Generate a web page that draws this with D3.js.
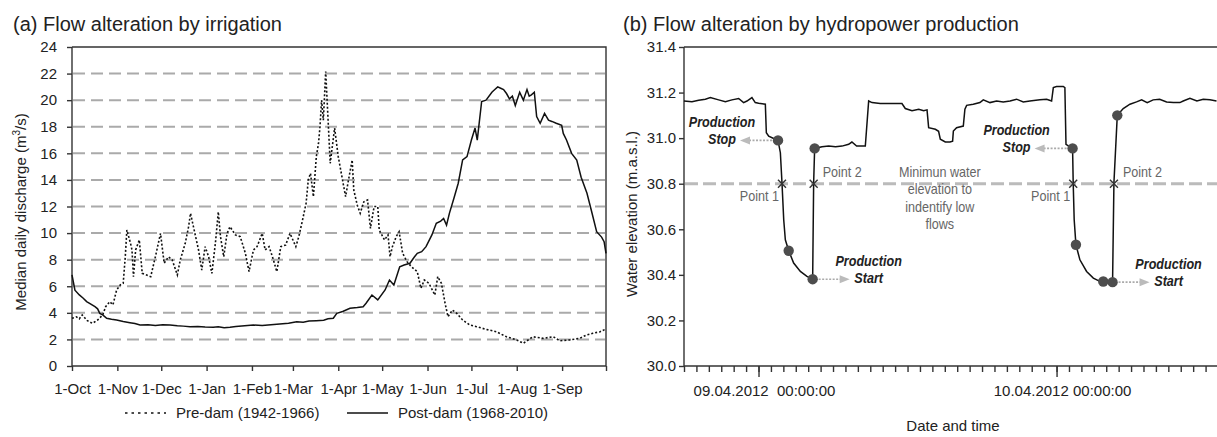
<!DOCTYPE html>
<html>
<head>
<meta charset="utf-8">
<script src="https://cdn.jsdelivr.net/npm/d3@7"></script>
<style>
  body { margin: 0; background: #fff; }
  svg { display: block; font-family: "Liberation Sans", Arial, sans-serif; }
  .axis text { font-size: 15px; fill: #222; }
  .axis path, .axis line { stroke: #333; stroke-width: 1.4; }
</style>
</head>
<body>
<svg id="fig" width="1217" height="437"></svg>
<script>
// ---------- (a) median daily discharge, day of water year (0 = 1-Oct) ----------
const monthTicks = ["1-Oct","1-Nov","1-Dec","1-Jan","1-Feb","1-Mar","1-Apr","1-May","1-Jun","1-Jul","1-Aug","1-Sep"];
const dischargeTicks = [0,2,4,6,8,10,12,14,16,18,20,22,24];
const gridValues = [2,4,6,8,10,12,14,16,18,20,22];

const preDamDays = [0,3,5,7,10.5,14,17.5,21,23,25.8,28,30.5,33,35,36.4,37.5,40,41,42,43.5,46,48,51,53.8,57,60.5,63,66,68.5,72,74,77.4,79.7,81,84,86.5,88.7,91,93.4,95.6,98,100,101.5,103.7,106,108,111.7,115,118.5,121,124,126.5,130,132,134.7,137,140,142.7,146,149,153,155,157.6,160,161.5,163,165,167,168.5,169.5,170.6,171.8,173.4,174.7,176.5,179.5,182,184.5,187,189,191.5,192.6,195,197,199.5,202,204,206.5,209,210,213.6,216,217.4,219,221.6,223.6,226,229,232,236,238.5,240.8,244,248,250,252.5,255,257,260,263,267,272,276.5,283,290,297,304,308.5,315,322,329,333.4,340,347,351.6,356,361,364.5];
const preDamQ = [3.59,3.7,3.55,3.84,3.41,3.21,3.46,3.84,4.46,4.84,4.6,5.72,6.1,6.22,8.2,10.23,9.23,8.73,6.72,8.73,9.48,6.97,6.85,6.72,8.22,9.98,7.73,8.22,7.98,6.85,7.98,9.23,10.48,11.49,9.98,8.73,7.22,8.98,8.22,6.97,9.23,11.6,9.73,8.22,9.98,10.48,9.86,9.73,8.48,7.1,8.73,8.98,9.98,8.73,8.98,8.22,7.1,8.98,9.1,9.98,8.98,9.73,10.99,12.24,14.0,14.5,12.74,15.75,16.76,18.0,20.0,18.5,22.15,19.26,15.25,17.9,15.75,14.24,12.74,14.0,15.5,13.24,12.1,11.49,12.36,12.49,10.36,12.0,12.0,10.23,9.48,9.86,8.22,8.98,9.73,10.1,8.48,7.85,7.47,7.1,5.85,6.47,6.22,5.34,6.72,6.22,4.72,3.71,4.21,3.96,3.46,3.08,2.96,2.76,2.58,2.2,1.96,1.71,2.2,2.08,2.2,1.9,1.96,2.08,2.33,2.46,2.58,2.76];

const postDamDays = [0,2,5,7.7,10,12.3,15.7,17.5,19,21,23.7,27,30.5,35,39.6,43,46.5,52,57,62,67,72,76,80.7,86,91,96.6,100,104,108,112,118,124,130,136,142,148,153.6,158,162,167,172,175,178.6,181,185,190,195,199,201,205,209,214,217,220,224,227,231,234,236,239,242,246,249,252,254,256,258,261,264,267,270,273,275.5,277,280,283,287,289,291,293,295,297,299,301,303,306,308.5,311,312.5,314,316,317.6,320,323,325.7,328,331,334.7,335.8,338,341.5,345,348,352,355,358.6,362,363.7,365];
const postDamQ = [6.85,5.7,5.35,5.1,4.85,4.7,4.46,4.3,3.96,3.85,3.59,3.52,3.46,3.35,3.26,3.2,3.08,3.1,3.05,3.1,3.08,3.02,3.0,2.96,2.98,2.93,2.91,2.95,2.88,2.91,2.97,3.02,3.08,3.05,3.1,3.16,3.22,3.33,3.3,3.38,3.41,3.45,3.55,3.59,3.96,4.1,4.34,4.4,4.46,4.72,5.34,4.97,5.72,6.47,6.1,7.47,7.6,7.73,8.2,8.48,8.6,8.98,9.86,10.74,10.9,11.1,10.6,11.5,12.6,13.75,15.5,15.75,17.0,17.9,17.0,19.9,20.0,20.6,20.8,21.0,20.9,20.8,20.5,20.1,20.3,19.6,20.6,20.0,20.8,20.3,20.4,20.6,18.76,18.26,19.0,18.5,18.4,18.26,18.1,17.5,17.0,16.0,15.5,14.2,13.0,11.7,10.1,9.7,9.35,8.48];

// ---------- (b) water elevation, hours after 08.04.2012 18:00 ----------
const elevHours = [0,0.64,1.18,1.72,2.12,2.79,3.33,3.86,4.4,4.8,5.07,5.47,5.74,6.01,6.55,6.63,6.82,7.35,7.57,7.76,7.89,8.03,8.16,8.43,8.83,9.37,9.9,10.36,10.44,10.52,11.11,11.65,12.2,12.72,13.26,13.52,13.9,14.6,14.87,15.14,15.8,16.6,17.55,17.82,18.36,18.9,19.3,19.57,19.7,20.24,20.5,20.64,21.04,21.42,21.63,21.69,21.95,22.49,22.62,22.76,23.29,23.83,24.1,24.64,25.17,25.71,26.25,26.78,27.32,27.85,28.66,29.2,29.6,29.74,30.0,30.54,30.67,30.76,30.95,31.29,31.34,31.42,31.56,31.88,32.42,32.96,33.36,33.76,34.51,34.62,34.89,35.37,35.91,36.44,36.85,37.3,37.78,38.3,38.86,39.4,39.93,40.2,40.74,41.3,41.81,42.35,42.88];
const elevValues = [31.163,31.16,31.166,31.171,31.178,31.168,31.16,31.168,31.174,31.156,31.163,31.178,31.156,31.153,31.149,31.024,31.009,30.995,30.99,30.936,30.804,30.642,30.554,30.506,30.452,30.415,30.393,30.381,30.804,30.955,30.962,30.965,30.962,30.965,30.973,30.983,30.965,30.965,31.163,31.156,31.152,31.152,31.152,31.13,31.12,31.127,31.12,31.124,31.046,31.039,31.03,30.995,30.983,30.983,30.987,31.031,31.046,31.053,31.127,31.144,31.149,31.156,31.168,31.156,31.163,31.159,31.163,31.171,31.159,31.163,31.168,31.171,31.163,31.222,31.227,31.227,31.222,30.973,30.966,30.955,30.804,30.642,30.532,30.466,30.415,30.386,30.375,30.371,30.368,30.804,31.1,31.13,31.149,31.159,31.168,31.156,31.168,31.171,31.159,31.156,31.156,31.163,31.175,31.163,31.171,31.168,31.163];

const markerHours = [7.57,8.43,10.36,10.52,31.29,31.56,33.76,34.51,34.89];
const markerValues = [30.99,30.506,30.381,30.955,30.955,30.532,30.371,30.368,31.1];
const crossHours = [7.89,10.44,31.34,34.62];
const thresholdValue = 30.8;
const stopHours = [7.57,31.29], stopValues = [30.99,30.955];
const startHours = [10.36,34.51], startValues = [30.381,30.368];
const elevTicks = [30.0,30.2,30.4,30.6,30.8,31.0,31.2,31.4];
const dayTickLabels = ["09.04.2012\u00a0\u00a000:00:00","10.04.2012 00:00:00"];

// ---------- layout ----------
const svg = d3.select("#fig");
const plotTop = 47, plotBottom = 366;
const DAY = 864e5, HOUR = 36e5;
const wyStart = Date.UTC(2001, 9, 1), wyEnd = Date.UTC(2002, 9, 1);
const dayToDate = d => new Date(wyStart + d * DAY);

// ===== panel (a) =====
const xA = d3.scaleUtc().domain([wyStart, wyEnd]).range([72, 606]);
const yA = d3.scaleLinear().domain([0, 24]).range([plotBottom, plotTop]);
const gA = svg.append("g");

gA.append("text").attr("x", 13).attr("y", 31).attr("font-size", 20).attr("fill", "#222")
  .text("(a) Flow alteration by irrigation");

gA.append("g").selectAll("line").data(gridValues).join("line")
  .attr("x1", 73).attr("x2", 605).attr("y1", d => yA(d)).attr("y2", d => yA(d))
  .attr("stroke", "#aaa").attr("stroke-width", 2).attr("stroke-dasharray", "12,6");

const monthDates = d3.utcMonths(new Date(wyStart), new Date(wyEnd + 1));
gA.append("g").attr("class", "axis").attr("transform", `translate(0,${plotBottom})`)
  .call(d3.axisBottom(xA).tickValues(monthDates).tickSize(5).tickPadding(12)
    .tickFormat((d, i) => monthTicks[i] || ""))
  .call(g => g.select(".domain").attr("d", `M72,0H606`));

gA.append("g").attr("class", "axis").attr("transform", "translate(72,0)")
  .call(d3.axisLeft(yA).tickValues(dischargeTicks).tickSize(5).tickPadding(10))
  .call(g => g.select(".domain").attr("d", `M0,${plotTop}V${plotBottom}`));

gA.append("path").attr("d", `M72,${plotTop}H606V${plotBottom}`).attr("fill", "none")
  .attr("stroke", "#333").attr("stroke-width", 1.4);

const lineA = d3.line().x(d => xA(dayToDate(d[0]))).y(d => yA(d[1]));
gA.append("path").datum(d3.zip(preDamDays, preDamQ)).attr("d", lineA)
  .attr("fill", "none").attr("stroke", "#111").attr("stroke-width", 1.6)
  .attr("stroke-dasharray", "2,2");
gA.append("path").datum(d3.zip(postDamDays, postDamQ)).attr("d", lineA)
  .attr("fill", "none").attr("stroke", "#111").attr("stroke-width", 1.5);

gA.append("text").attr("transform", `translate(26,212) rotate(-90)`)
  .attr("text-anchor", "middle").attr("font-size", 15).attr("fill", "#222")
  .call(t => {
    t.append("tspan").text("Median daily discharge (m");
    t.append("tspan").attr("dy", -6).attr("font-size", 10).text("3");
    t.append("tspan").attr("dy", 6).text("/s)");
  });

// legend
const legend = gA.append("g");
legend.append("line").attr("x1", 125).attr("x2", 166).attr("y1", 413).attr("y2", 413)
  .attr("stroke", "#111").attr("stroke-width", 1.6).attr("stroke-dasharray", "2.5,4");
legend.append("text").attr("x", 176).attr("y", 418).attr("font-size", 15).attr("fill", "#222")
  .text("Pre-dam (1942-1966)");
legend.append("line").attr("x1", 347).attr("x2", 388).attr("y1", 413).attr("y2", 413)
  .attr("stroke", "#111").attr("stroke-width", 1.5);
legend.append("text").attr("x", 398).attr("y", 418).attr("font-size", 15).attr("fill", "#222")
  .text("Post-dam (1968-2010)");

// ===== panel (b) =====
const t0 = Date.UTC(2012, 3, 8, 18);
const hourToDate = h => new Date(t0 + h * HOUR);
const xB = d3.scaleUtc().domain([t0, t0 + 43 * HOUR]).range([684, 1218]);
const yB = d3.scaleLinear().domain([30, 31.4]).range([plotBottom, plotTop]);
const gB = svg.append("g");
const px = h => xB(hourToDate(h));

gB.append("text").attr("x", 623).attr("y", 31).attr("font-size", 20).attr("fill", "#222")
  .text("(b) Flow alteration by hydropower production");

// threshold line
gB.append("line").attr("x1", 685).attr("x2", 1218)
  .attr("y1", yB(thresholdValue)).attr("y2", yB(thresholdValue))
  .attr("stroke", "#bbb").attr("stroke-width", 3).attr("stroke-dasharray", "13,5");

// hourly minor ticks + daily major ticks
const hours = d3.utcHours(new Date(t0), new Date(t0 + 43 * HOUR + 1));
const midnights = hours.filter(d => d.getUTCHours() === 0);
gB.append("g").attr("class", "axis").attr("transform", `translate(0,${plotBottom})`)
  .call(d3.axisBottom(xB).tickValues(hours).tickSize(6).tickFormat(""))
  .call(g => g.select(".domain").attr("d", "M684,0H1218"));
gB.append("g").attr("class", "axis").attr("transform", `translate(0,${plotBottom})`)
  .call(d3.axisBottom(xB).tickValues(midnights).tickSize(11).tickFormat(""))
  .call(g => g.select(".domain").remove());
gB.append("g").selectAll("text").data(midnights).join("text")
  .attr("x", d => xB(d) + 6).attr("y", 396).attr("text-anchor", "middle")
  .attr("font-size", 15).attr("fill", "#222").style("white-space", "pre")
  .text((d, i) => dayTickLabels[i]);

gB.append("g").attr("class", "axis").attr("transform", "translate(684,0)")
  .call(d3.axisLeft(yB).tickValues(elevTicks).tickSize(5).tickPadding(3).tickFormat(d3.format(".1f")))
  .call(g => g.select(".domain").attr("d", `M0,${plotTop}V${plotBottom}`));
gB.append("line").attr("x1", 684).attr("x2", 1218).attr("y1", plotTop).attr("y2", plotTop)
  .attr("stroke", "#333").attr("stroke-width", 1.4);

gB.append("text").attr("transform", "translate(637,214) rotate(-90)")
  .attr("text-anchor", "middle").attr("font-size", 15).attr("fill", "#222")
  .text("Water elevation (m.a.s.l.)");
gB.append("text").attr("x", 953).attr("y", 431).attr("text-anchor", "middle")
  .attr("font-size", 15).attr("fill", "#222").text("Date and time");

// elevation series
const lineB = d3.line().x(d => px(d[0])).y(d => yB(d[1]));
gB.append("path").datum(d3.zip(elevHours, elevValues)).attr("d", lineB)
  .attr("fill", "none").attr("stroke", "#111").attr("stroke-width", 1.5);

// narrow annotation text
function note(x, y, str, opts) {
  const o = Object.assign({ size: 14, fill: "#222", weight: "normal", style: "normal", anchor: "middle" }, opts);
  gB.append("text").attr("transform", `translate(${x},${y}) scale(0.9,1)`)
    .attr("text-anchor", o.anchor).attr("font-size", o.size).attr("fill", o.fill)
    .attr("font-weight", o.weight).attr("font-style", o.style).text(str);
}
function arrow(x1, x2, y) {
  const dir = Math.sign(x2 - x1);
  gB.append("line").attr("x1", x1).attr("x2", x2 - dir * 8).attr("y1", y).attr("y2", y)
    .attr("stroke", "#aaa").attr("stroke-width", 1.6).attr("stroke-dasharray", "2,1.5");
  gB.append("path").attr("d", `M${x2},${y}L${x2 - dir * 10},${y - 4}L${x2 - dir * 10},${y + 4}Z`)
    .attr("fill", "#bbb");
}

// production stop / start labels with arrows
stopHours.forEach((h, i) => {
  const x = px(h), y = yB(stopValues[i]);
  arrow(x - 6, x - 38, y);
  note(x - 56, y - 13, "Production", { weight: "bold", style: "italic" });
  note(x - 56, y + 4, "Stop", { weight: "bold", style: "italic" });
});
startHours.forEach((h, i) => {
  const x = px(h), y = yB(startValues[i]);
  arrow(x + 6, x + 37, y);
  note(x + 56, y - 13, "Production", { weight: "bold", style: "italic" });
  note(x + 56, y + 4, "Start", { weight: "bold", style: "italic" });
});

// crossing marks on the threshold
const yT = yB(thresholdValue);
gB.append("g").selectAll("path").data(crossHours).join("path")
  .attr("d", h => { const x = px(h); return `M${x-4},${yT-4}L${x+4},${yT+4}M${x-4},${yT+4}L${x+4},${yT-4}`; })
  .attr("stroke", "#333").attr("stroke-width", 1.4);
crossHours.forEach((h, i) => {
  const x = px(h);
  if (i % 2 === 0) note(x - 3, yT + 17, "Point 1", { fill: "#666", anchor: "end" });
  else note(x + 9, yT - 7, "Point 2", { fill: "#666", anchor: "start" });
});

// threshold explanation
["Minimun water", "elevation to", "indentify low", "flows"].forEach((s, i) => {
  note(px(20.6), yT - 7 + i * 17.5, s, { fill: "#666" });
});

// event markers
gB.append("g").selectAll("circle").data(d3.zip(markerHours, markerValues)).join("circle")
  .attr("cx", d => px(d[0])).attr("cy", d => yB(d[1])).attr("r", 5.2).attr("fill", "#4d4d4d");
</script>
</body>
</html>
